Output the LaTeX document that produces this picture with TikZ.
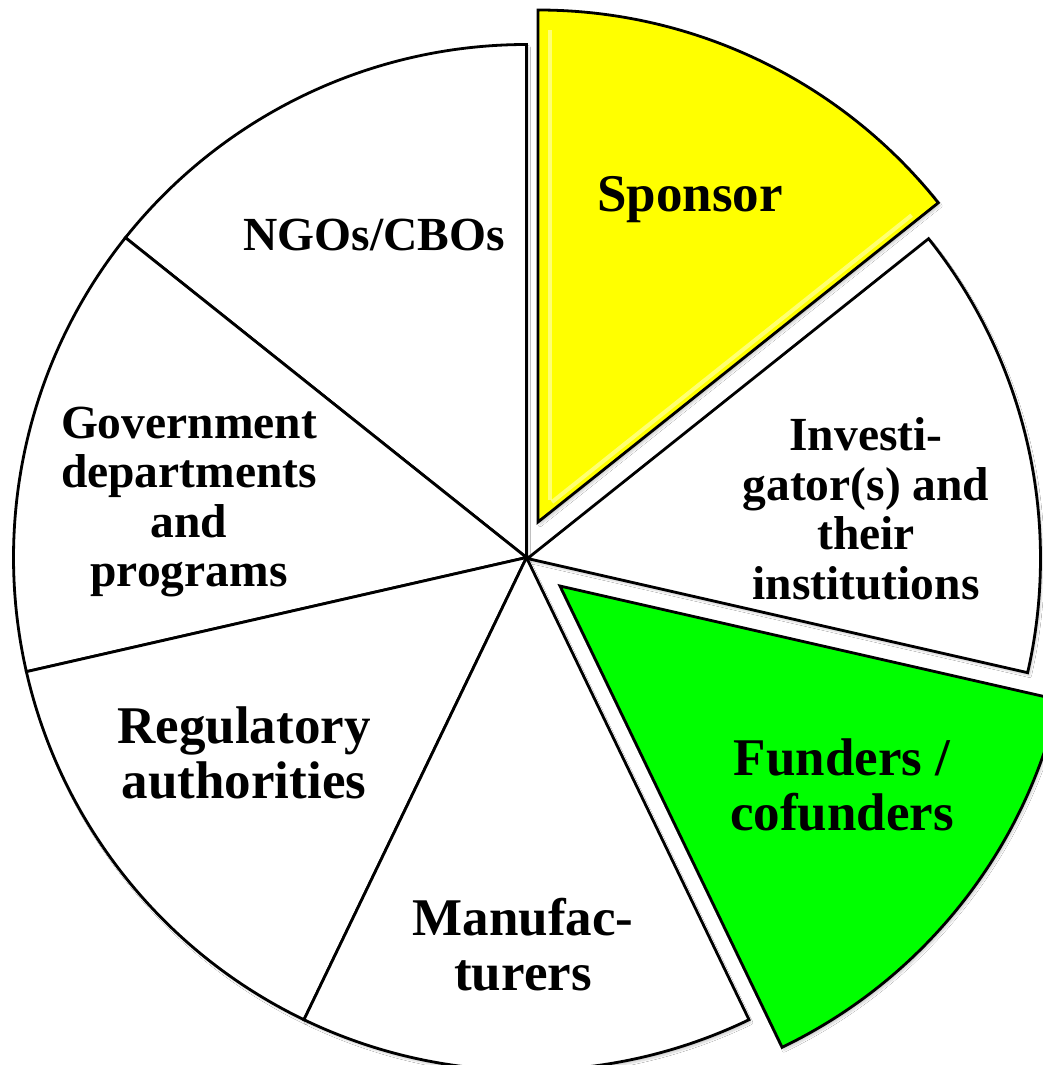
\documentclass[tikz,border=0pt]{standalone}
\usepackage{fontspec}
\setmainfont{Liberation Serif}
\usetikzlibrary{calc,shadows.blur}
\definecolor{pieyellow}{RGB}{255,255,0}
\definecolor{piegreen}{RGB}{0,255,0}
\tikzset{
  slice/.style={draw=black, line width=2.8pt, line join=miter, fill=white,
    blur shadow={shadow xshift=2pt, shadow yshift=-3pt, shadow opacity=18, shadow blur steps=6}},
  biglabel/.style={font=\fontsize{53}{55}\selectfont\bfseries, align=center, inner sep=0pt},
  smalllabel/.style={font=\fontsize{47.5}{49.5}\selectfont\bfseries, align=center, inner sep=0pt},
}
\begin{document}
\begin{tikzpicture}[x=1pt,y=1pt]
\useasboundingbox (0,0) rectangle (1043,-1065);
\clip (0,0) rectangle (1043,-1065);
\fill[white] (0,0) rectangle (1043,-1065);
\coordinate (C) at (526.5,-557.5);
\coordinate (CI) at (527.5,-558.5);
\coordinate (F) at (560,-586);
\coordinate (S) at (538,-522);
% main slices
\path[slice] (C) -- ++(90:513pt) arc[start angle=90, end angle=141.43, radius=513pt] -- cycle;
\path[slice] (C) -- ++(141.43:513pt) arc[start angle=141.43, end angle=192.86, radius=513pt] -- cycle;
\path[slice] (C) -- ++(192.86:513pt) arc[start angle=192.86, end angle=244.29, radius=513pt] -- cycle;
\path[slice] (C) -- ++(244.29:513pt) arc[start angle=244.29, end angle=295.71, radius=513pt] -- cycle;
\path[slice] (CI) -- ++(-12.86:513pt) arc[start angle=-12.86, end angle=38.57, radius=513pt] -- cycle;
% exploded slices
\path[slice, fill=piegreen] (F) -- ++(-64.29:512pt) arc[start angle=-64.29, end angle=-12.86, radius=512pt] -- cycle;
\path[slice, fill=pieyellow] (S) -- ++(38.57:512pt) arc[start angle=38.57, end angle=90, radius=512pt] -- cycle;
% bevel highlights
\draw[white, opacity=0.45, line width=4pt] ($(S)+(12,22)$) -- ++(90:470pt);
\draw[white, opacity=0.45, line width=4pt] ($(S)+(14,20)$) -- ++(38.57:460pt);
% labels
\node[biglabel] (sponsor) at (690,-200) {Sponsor};
\node[smalllabel] (ngo) at (374,-235) {NGOs/CBOs};
\node[smalllabel] (inv) at (866,-509) {Investi-\\gator(s) and\\their\\institutions};
\node[biglabel] (fund) at (842,-785) {Funders /\\cofunders};
\node[biglabel] (manu) at (523,-945) {Manufac-\\turers};
\node[biglabel] (reg) at (244,-753) {Regulatory\\authorities};
\node[smalllabel] (gov) at (189,-502) {Government\\departments\\and\\programs};
\end{tikzpicture}
\end{document}
